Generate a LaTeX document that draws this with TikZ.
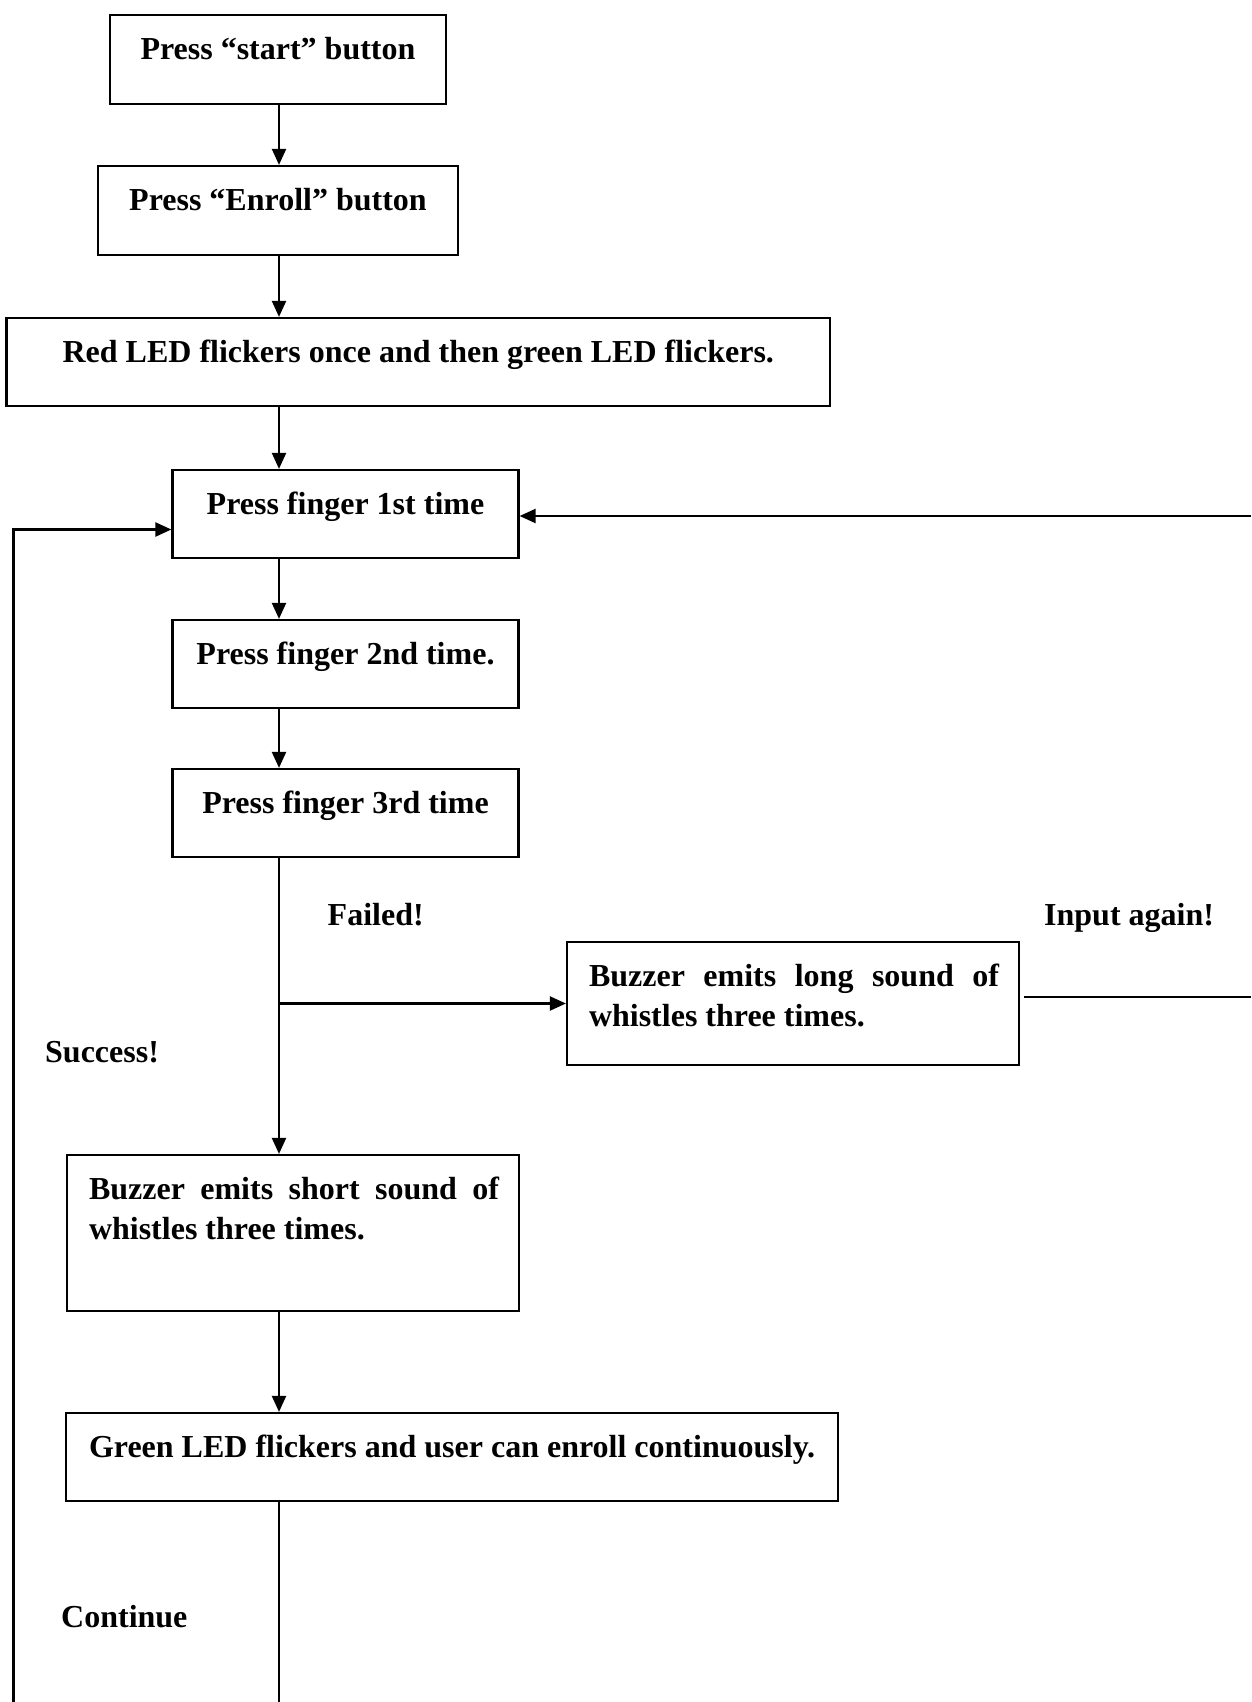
\documentclass[tikz,border=0pt]{standalone}
\usepackage{fontspec}
\setmainfont{Liberation Serif}
\usetikzlibrary{arrows.meta}
% box contents: #1 width, #2 height (pt), #3 text; first baseline 44pt below the top
\newcommand{\cbox}[3]{\vbox to #2pt{\hbox to #1pt{\hss\rule{0pt}{44pt}#3\hss}\vss}}
\newcommand{\jbox}[3]{\parbox[c][#2pt][t]{#1pt}{\leftskip=22pt\rightskip=20pt\rule{0pt}{44pt}#3}}
\begin{document}
\begin{tikzpicture}[x=1pt,y=-1pt,
  flowbox/.style={draw, line width=2.2pt, inner sep=0pt, font=\fontsize{32pt}{40pt}\selectfont\bfseries},
  tag/.style={inner sep=0pt, anchor=base west, font=\fontsize{32pt}{40pt}\selectfont\bfseries},
  link/.style={line width=2.2pt},
  arr/.style={link, -{Triangle[length=16pt,width=14pt]}}]
\useasboundingbox (0,0) rectangle (1251,1702);

% process boxes
\node[flowbox] (b1) at (278,59.5) {\cbox{336}{89}{Press “start” button}};
\node[flowbox] (b2) at (278,210.5) {\cbox{360}{89}{Press “Enroll” button}};
\node[flowbox] (b3) at (418.3,362) {\cbox{823.5}{88}{Red LED flickers once and then green LED flickers.}};
\node[flowbox] (b4) at (345.5,514) {\cbox{346}{88}{Press finger 1st time}};
\node[flowbox] (b5) at (345.5,664) {\cbox{346}{88}{Press finger 2nd time.}};
\node[flowbox] (b6) at (345.5,813) {\cbox{346}{88}{Press finger 3rd time}};
\node[flowbox] (lng) at (793,1003.5) {\jbox{452}{123}{Buzzer emits long sound of\linebreak whistles three times.}};
\node[flowbox] (sht) at (293,1233) {\jbox{452}{156}{Buzzer emits short sound of\linebreak whistles three times.}};
\node[flowbox] (b9) at (452,1457) {\cbox{772}{88}{Green LED flickers and user can enroll continuously.}};

% branch labels
\node[tag] (failed) at (327.5,925) {Failed!};
\node[tag] (again) at (1044,925) {Input again!};
\node[tag] (success) at (45,1062) {Success!};
\node[tag] (cont) at (61,1627) {Continue};

% routing points
\coordinate (spine) at (279,0);
\coordinate (rin) at (1251,516);
\coordinate (lcorner) at (13.5,529.5);
\coordinate (lbot) at (13.5,1702);
\coordinate (cbot) at (279,1702);
\coordinate (rout) at (1251,997);
\coordinate (lngR) at ([xshift=4pt]lng.east);

% main flow
\draw[arr] (b1.south -| spine) -- (b2.north -| spine);
\draw[arr] (b2.south -| spine) -- (b3.north -| spine);
\draw[arr] (b3.south -| spine) -- (b4.north -| spine);
\draw[arr] (b4.south -| spine) -- (b5.north -| spine);
\draw[arr] (b5.south -| spine) -- (b6.north -| spine);
\draw[arr] (b6.south -| spine) -- (sht.north -| spine);
\draw[arr] (lng.west -| spine) -- (lng.west);
\draw[arr] (sht.south -| spine) -- (b9.north -| spine);
\draw[link] (b9.south -| spine) -- (cbot);

% return paths
\draw[arr] (lbot) -- (lcorner) -- (lcorner -| b4.west);
\draw[arr] (rin) -- (rin -| b4.east);
\draw[link] (lngR |- rout) -- (rout);
\end{tikzpicture}
\end{document}
